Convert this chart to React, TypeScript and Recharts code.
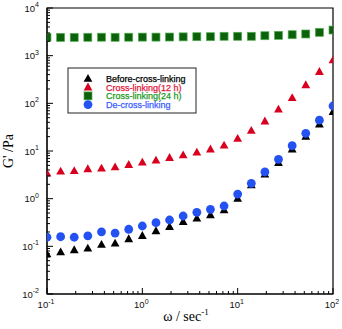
import React from "react";
import {
  ScatterChart,
  Scatter,
  XAxis,
  YAxis,
  ReferenceArea,
} from "recharts";

// angular frequency, rad/s
const omega = [
  0.1, 0.139, 0.193, 0.268, 0.373, 0.518, 0.72, 1, 1.39, 1.93, 2.68, 3.73,
  5.18, 7.2, 10, 13.9, 19.3, 26.8, 37.3, 51.8, 72, 100,
];

// storage modulus G' (Pa)
const beforeCrossLinking = [
  0.069, 0.076, 0.084, 0.091, 0.109, 0.116, 0.143, 0.167, 0.21, 0.258, 0.329,
  0.387, 0.455, 0.579, 1.0, 1.94, 3.25, 5.68, 10.9, 20.0, 36.5, 66.8,
];
const crossLinking12h = [
  3.4, 3.75, 3.85, 4.2, 4.34, 4.62, 5.16, 5.8, 6.38, 7.24, 8.25, 9.4, 10.9,
  13.2, 18.3, 26.9, 42.2, 75, 131, 243, 461, 811,
];
const crossLinking24h = [
  2430, 2420, 2420, 2430, 2440, 2430, 2440, 2450, 2450, 2460, 2480, 2500,
  2500, 2550, 2550, 2550, 2620, 2670, 2750, 2850, 3090, 3450,
];
const deCrossLinking = [
  0.155, 0.159, 0.155, 0.166, 0.202, 0.19, 0.228, 0.267, 0.313, 0.357, 0.433,
  0.518, 0.598, 0.702, 1.25, 2.1, 3.63, 6.7, 12.9, 23.5, 44.3, 87.9,
];

const xMajor = [0.1, 1, 10, 100];
const yMajor = [0.01, 0.1, 1, 10, 100, 1000, 10000];
const mantissas = [1, 2, 3, 4, 5, 6, 7, 8, 9];

const withMinors = (majors: number[]) => {
  const out: number[] = [];
  majors.forEach((m, i) => {
    if (i === majors.length - 1) out.push(m);
    else mantissas.forEach((k) => out.push(+(m * k).toPrecision(6)));
  });
  return out;
};
const xTicks = withMinors(xMajor);
const yTicks = withMinors(yMajor);

const pts = (vals: number[]) => omega.map((w, i) => ({ w, g: vals[i] }));

const RED = "#d8001e";
const GREEN = "#0b620b";
const BLUE = "#2452f2";

const Triangle = ({ cx, cy, fill }: any) => (
  <polygon
    points={`${cx},${cy - 4.6} ${cx - 4.4},${cy + 3.2} ${cx + 4.4},${cy + 3.2}`}
    fill={fill}
  />
);
const Square = ({ cx, cy }: any) => (
  <rect x={cx - 4} y={cy - 4} width={8} height={8} fill={GREEN} stroke="#55b055" strokeWidth={0.7} />
);
const Dot = ({ cx, cy }: any) => <circle cx={cx} cy={cy} r={4.4} fill={BLUE} />;

const isMajor = (v: number) => {
  const e = Math.round(Math.log10(v));
  return Math.abs(v - Math.pow(10, e)) < 1e-9 * Math.pow(10, e);
};

const Pow = ({ x, y, v, anchor }: any) => (
  <text
    x={x}
    y={y}
    textAnchor={anchor}
    fontFamily="Liberation Sans, Arial, sans-serif"
    fontSize={9.5}
    fill="#111"
  >
    <tspan>10</tspan>
    <tspan dy={-4.5} fontSize={7}>
      {Math.round(Math.log10(v))}
    </tspan>
  </text>
);

const YTick = ({ x, y, payload }: any) => {
  const major = isMajor(payload.value);
  return (
    <g>
      <line x1={x} y1={y} x2={x + (major ? 6 : 3)} y2={y} stroke="#000" />
      {major && <Pow x={x - 8} y={y + 3.5} v={payload.value} anchor="end" />}
    </g>
  );
};

const XTick = ({ x, y, payload }: any) => {
  const major = isMajor(payload.value);
  return (
    <g>
      <line x1={x} y1={y} x2={x} y2={y - (major ? 6 : 3)} stroke="#000" />
      {major && <Pow x={x - 1} y={y + 14} v={payload.value} anchor="middle" />}
    </g>
  );
};

const legendItems = [
  { label: "Before-cross-linking", color: "#000", text: "#000", mark: "tri" },
  { label: "Cross-linking(12 h)", color: RED, text: "#e0163c", mark: "tri" },
  { label: "Cross-linking(24 h)", color: GREEN, text: "#1c9a1c", mark: "sq" },
  { label: "De-cross-linking", color: BLUE, text: "#3a5cff", mark: "dot" },
];

const LegendBox = () => (
  <svg
    width={130}
    height={47}
    style={{ position: "absolute", left: 67, top: 67 }}
  >
    <rect x={1} y={1} width={128} height={45} fill="#fff" stroke="#222" strokeWidth={1} />
    {legendItems.map((it, i) => {
      const cy = 11.5 + i * 8.7;
      const cx = 21;
      return (
        <g key={it.label}>
          {it.mark === "tri" && <Triangle cx={cx} cy={cy} fill={it.color} />}
          {it.mark === "sq" && <Square cx={cx} cy={cy} />}
          {it.mark === "dot" && <Dot cx={cx} cy={cy} />}
          <text
            x={39}
            y={cy + 3.3}
            fontFamily="Liberation Sans, Arial, sans-serif"
            fontSize={9}
            fill={it.text}
            stroke={it.text}
            strokeWidth={0.25}
          >
            {it.label}
          </text>
        </g>
      );
    })}
  </svg>
);

export default function App() {
  return (
    <div
      style={{
        position: "absolute",
        left: 0,
        top: 0,
        width: 342,
        height: 329,
        background: "#fff",
      }}
    >
      <ScatterChart
        width={342}
        height={329}
        margin={{ top: 8, right: 9, bottom: 5, left: 7 }}
      >
        <XAxis
          dataKey="w"
          type="number"
          scale="log"
          domain={[0.1, 100]}
          allowDataOverflow
          ticks={xTicks}
          interval={0}
          tickSize={0}
          tickMargin={0}
          tickLine={false}
          tick={<XTick />}
          height={30}
          axisLine={{ stroke: "#000" }}
        />
        <YAxis
          dataKey="g"
          type="number"
          scale="log"
          domain={[0.01, 10000]}
          allowDataOverflow
          ticks={yTicks}
          interval={0}
          tickSize={0}
          tickMargin={0}
          tickLine={false}
          tick={<YTick />}
          width={40}
          axisLine={{ stroke: "#000" }}
        />
        <ReferenceArea
          x1={0.1}
          x2={100}
          y1={0.01}
          y2={10000}
          fill="none"
          stroke="#000"
          strokeWidth={1.2}
        />
        <Scatter
          data={pts(beforeCrossLinking)}
          shape={(p: any) => <Triangle {...p} fill="#000" />}
          isAnimationActive={false}
        />
        <Scatter
          data={pts(crossLinking12h)}
          shape={(p: any) => <Triangle {...p} fill={RED} />}
          isAnimationActive={false}
        />
        <Scatter
          data={pts(crossLinking24h)}
          shape={(p: any) => <Square {...p} />}
          isAnimationActive={false}
        />
        <Scatter
          data={pts(deCrossLinking)}
          shape={(p: any) => <Dot {...p} />}
          isAnimationActive={false}
        />
        <text
          x={13}
          y={151}
          transform="rotate(-90 13 151)"
          textAnchor="middle"
          fontFamily="Liberation Serif, Times New Roman, serif"
          fontSize={14}
          fill="#000"
        >
          G' /Pa
        </text>
        <text
          x={186}
          y={321}
          textAnchor="middle"
          fontFamily="Liberation Serif, Times New Roman, serif"
          fontSize={14}
          fill="#000"
        >
          <tspan>ω / sec</tspan>
          <tspan dy={-6} fontSize={9}>
            -1
          </tspan>
        </text>
      </ScatterChart>
      <LegendBox />
    </div>
  );
}
